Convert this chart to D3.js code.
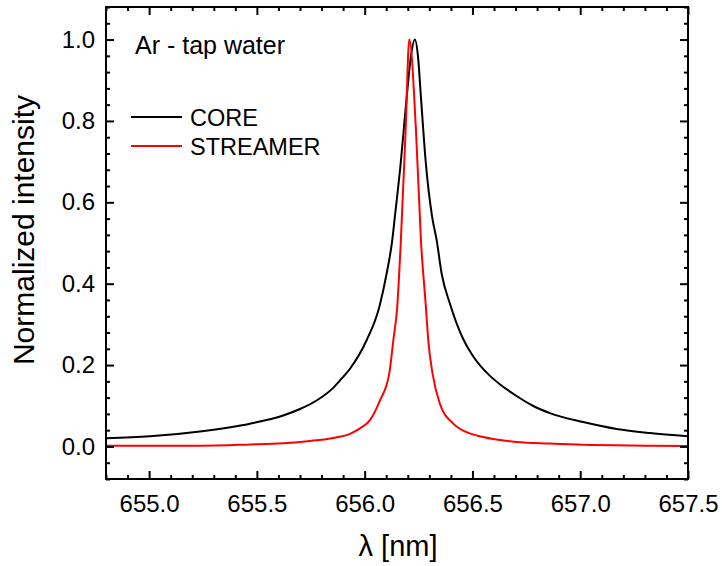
<!DOCTYPE html>
<html>
<head>
<meta charset="utf-8">
<script src="https://cdn.jsdelivr.net/npm/d3@7"></script>
<style>
  body { margin: 0; background: #fff; }
  svg text { font-family: "Liberation Sans", Arial, sans-serif; fill: #000; }
</style>
</head>
<body>
<svg id="chart" width="722" height="566"></svg>
<script>
// values (wavelength in nm, normalized intensity)
var coreLambda = [654.800, 655.004, 655.236, 655.468, 655.622, 655.700, 655.777, 655.854, 655.885, 655.932,
  656.009, 656.068, 656.102, 656.128, 656.140, 656.167, 656.195, 656.215, 656.233, 656.248, 656.261,
  656.284, 656.313, 656.334, 656.357, 656.396, 656.457, 656.500, 656.535, 656.580, 656.627, 656.705, 656.780,
  656.859, 657.014, 657.169, 657.323, 657.500];
var coreValue = [0.020, 0.025, 0.037, 0.056, 0.076, 0.092, 0.113, 0.144, 0.162, 0.191,
  0.261, 0.343, 0.425, 0.507, 0.564, 0.695, 0.859, 0.960, 1.000, 0.955, 0.859,
  0.695, 0.564, 0.507, 0.425, 0.350, 0.264, 0.224, 0.199, 0.174, 0.153, 0.124, 0.100,
  0.082, 0.060, 0.043, 0.033, 0.025];

var streamerLambda = [654.800, 655.004, 655.236, 655.468, 655.622, 655.700, 655.777, 655.854, 655.932,
  655.980, 656.024, 656.071, 656.114, 656.133, 656.151, 656.168, 656.190, 656.207, 656.238, 656.261,
  656.284, 656.295, 656.315, 656.349, 656.411, 656.473, 656.550, 656.705, 656.859, 657.014,
  657.323, 657.500];
var streamerValue = [0.002, 0.002, 0.002, 0.005, 0.008, 0.011, 0.015, 0.021, 0.031,
  0.045, 0.064, 0.113, 0.179, 0.261, 0.343, 0.507, 0.777, 1.000, 0.777, 0.507,
  0.343, 0.261, 0.179, 0.105, 0.056, 0.035, 0.023, 0.011, 0.007, 0.004,
  0.002, 0.001];

var xTicks = [655.0, 655.5, 656.0, 656.5, 657.0, 657.5];
var yTicks = [0.0, 0.2, 0.4, 0.6, 0.8, 1.0];
var seriesNames = ["CORE", "STREAMER"];
var seriesColors = ["#000000", "#ff0000"];

var W = 722, H = 566;
var m = {left: 106, right: 34, top: 7, bottom: 87};
var svg = d3.select("#chart");

var x = d3.scaleLinear().domain([654.8, 657.5]).range([m.left, W - m.right]);
var y = d3.scaleLinear().domain([-0.08, 1.08]).range([H - m.bottom, m.top]);

var xMinor = d3.range(6548, 6576, 1).map(function(d) { return d / 10; })
  .filter(function(d) { return xTicks.indexOf(d) < 0; });
var yMinor = d3.range(-2, 28, 1).map(function(d) { return +(d * 0.04).toFixed(2); })
  .filter(function(d) { return Math.abs(d * 5 - Math.round(d * 5)) > 1e-6; });

// curves
var data = [
  coreLambda.map(function(d, i) { return [d, coreValue[i]]; }),
  streamerLambda.map(function(d, i) { return [d, streamerValue[i]]; })
];
var line = d3.line()
  .x(function(d) { return x(d[0]); })
  .y(function(d) { return y(d[1]); })
  .curve(d3.curveMonotoneX);

svg.append("defs").append("clipPath").attr("id", "clip")
  .append("rect").attr("x", m.left).attr("y", m.top)
  .attr("width", W - m.left - m.right).attr("height", H - m.top - m.bottom);

svg.append("g").attr("clip-path", "url(#clip)").selectAll("path")
  .data(data).enter().append("path")
  .attr("d", line)
  .attr("fill", "none")
  .attr("stroke", function(d, i) { return seriesColors[i]; })
  .attr("stroke-width", 2)
  .attr("stroke-linejoin", "round");

// axes, ticks pointing inward on all four sides
function styleAxis(g) {
  g.select(".domain").remove();
  g.selectAll(".tick line").attr("stroke", "#000").attr("stroke-width", 2);
  g.selectAll("text").style("font-size", "24px")
    .style("font-family", "'Liberation Sans', Arial, sans-serif");
}
var fmt = d3.format(".1f");
var bottomY = H - m.bottom, rightX = W - m.right;

svg.append("g").attr("transform", "translate(0," + bottomY + ")")
  .call(d3.axisBottom(x).tickValues(xTicks).tickFormat(fmt).tickSize(-8).tickPadding(16)).call(styleAxis);
svg.append("g").attr("transform", "translate(0," + bottomY + ")")
  .call(d3.axisBottom(x).tickValues(xMinor).tickFormat("").tickSize(-4)).call(styleAxis);
svg.append("g").attr("transform", "translate(0," + m.top + ")")
  .call(d3.axisTop(x).tickValues(xTicks).tickFormat("").tickSize(-8)).call(styleAxis);
svg.append("g").attr("transform", "translate(0," + m.top + ")")
  .call(d3.axisTop(x).tickValues(xMinor).tickFormat("").tickSize(-4)).call(styleAxis);

svg.append("g").attr("transform", "translate(" + m.left + ",0)")
  .call(d3.axisLeft(y).tickValues(yTicks).tickFormat(fmt).tickSize(-8).tickPadding(11)).call(styleAxis);
svg.append("g").attr("transform", "translate(" + m.left + ",0)")
  .call(d3.axisLeft(y).tickValues(yMinor).tickFormat("").tickSize(-4)).call(styleAxis);
svg.append("g").attr("transform", "translate(" + rightX + ",0)")
  .call(d3.axisRight(y).tickValues(yTicks).tickFormat("").tickSize(-8)).call(styleAxis);
svg.append("g").attr("transform", "translate(" + rightX + ",0)")
  .call(d3.axisRight(y).tickValues(yMinor).tickFormat("").tickSize(-4)).call(styleAxis);

// frame
svg.append("rect")
  .attr("x", m.left).attr("y", m.top)
  .attr("width", rightX - m.left).attr("height", bottomY - m.top)
  .attr("fill", "none").attr("stroke", "#000").attr("stroke-width", 2);

// axis titles
svg.append("text")
  .attr("x", (m.left + rightX) / 2 + 1).attr("y", 556)
  .attr("text-anchor", "middle").style("font-size", "29px")
  .text("λ [nm]");
svg.append("text")
  .attr("transform", "translate(34,230) rotate(-90)")
  .attr("text-anchor", "middle").style("font-size", "30px")
  .text("Normalized intensity");

// label and legend
svg.append("text").attr("x", 135).attr("y", 54).style("font-size", "25px").text("Ar - tap water");

var leg = svg.append("g").selectAll("g").data(seriesNames).enter().append("g")
  .attr("transform", function(d, i) { return "translate(131," + (117 + i * 29) + ")"; });
leg.append("line").attr("x1", 0).attr("x2", 51).attr("y1", 0).attr("y2", 0)
  .attr("stroke", function(d, i) { return seriesColors[i]; }).attr("stroke-width", 2);
leg.append("text").attr("x", 59).attr("y", 9).style("font-size", "23.5px")
  .text(function(d) { return d; });
</script>
</body>
</html>
